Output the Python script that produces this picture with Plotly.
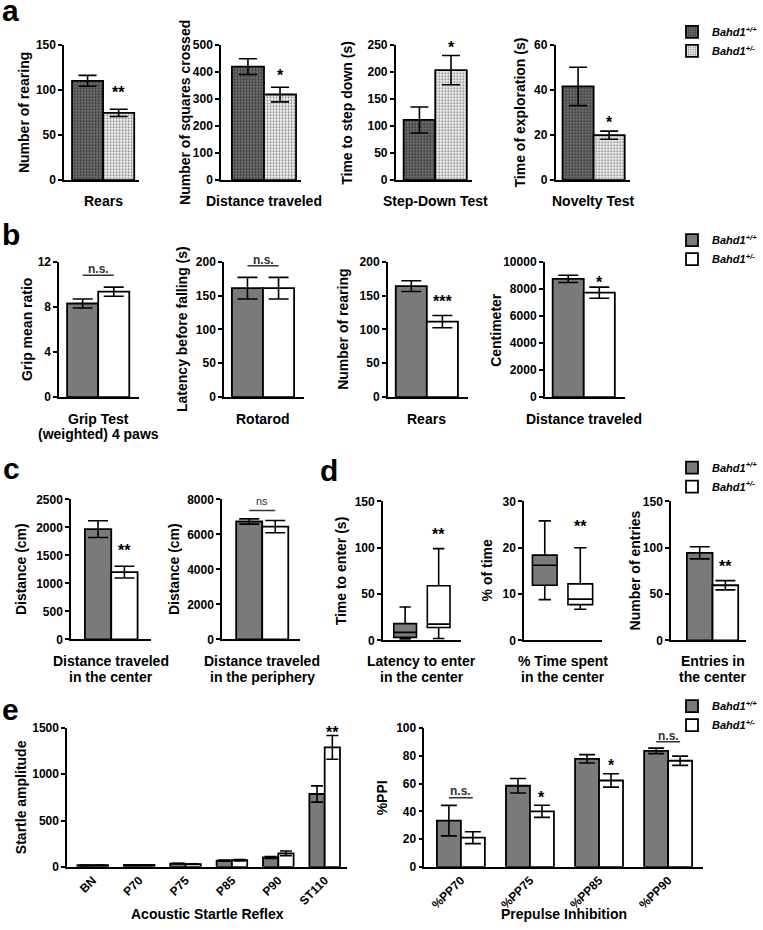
import plotly.graph_objects as go

# ------------------------------------------------------------------
# DATA
# ------------------------------------------------------------------
LEGEND_NAMES = ["<i>Bahd1<sup>+/+</sup></i>", "<i>Bahd1<sup>+/-</sup></i>"]
GENOTYPES = ["Bahd1+/+", "Bahd1+/-"]

# panel a
A_TESTS = ["Rears", "Distance traveled", "Step-Down Test", "Novelty Test"]
A_YTITLES = ["Number of rearing", "Number of squares crossed",
             "Time to step down (s)", "Time of exploration (s)"]
A_WT = [110, 419, 111, 41.5]
A_WT_SEM = [6, 29, 24, 8.5]
A_HET = [74.5, 316, 203, 19.9]
A_HET_SEM = [4, 27, 27, 1.8]
A_YMAX = [150, 500, 250, 60]
A_DTICK = [50, 100, 50, 20]
A_SIG = ["**", "*", "*", "*"]
A_SIG_Y = [102, 401, 252, 27.5]
A_NS_LINE = [None, None, None, None]

# panel b
B_TESTS = ["Grip Test<br>(weighted) 4 paws", "Rotarod", "Rears", "Distance traveled"]
B_YTITLES = ["Grip mean ratio", "Latency before falling (s)",
             "Number of rearing", "Centimeter"]
B_WT = [8.3, 161, 164, 8740]
B_WT_SEM = [0.4, 16, 8, 270]
B_HET = [9.35, 161, 111.5, 7720]
B_HET_SEM = [0.4, 16, 9, 410]
B_YMAX = [12, 200, 200, 10000]
B_DTICK = [4, 50, 50, 2000]
B_SIG = ["n.s.", "n.s.", "***", "*"]
B_SIG_Y = [11.4, 203, 147, 8740]
B_NS_LINE = [10.8, 194, None, None]

# panel c
C_TESTS = ["Distance traveled<br>in the center", "Distance traveled<br>in the periphery"]
C_YTITLES = ["Distance (cm)", "Distance (cm)"]
C_WT = [1970, 6740]
C_WT_SEM = [150, 150]
C_HET = [1200, 6450]
C_HET_SEM = [105, 350]
C_YMAX = [2500, 8000]
C_DTICK = [500, 2000]
C_SIG = ["**", "ns"]
C_SIG_Y = [1655, 7890]
C_NS_LINE = [None, 7370]

# panel d (box plots: min, Q1, median, Q3, max)
D_BOX_TESTS = ["Latency to enter<br>in the center", "% Time spent<br>in the center"]
D_BOX_YTITLES = ["Time to enter (s)", "% of time"]
D_WT_LOW = [1.4, 8.8]
D_WT_Q1 = [3.2, 11.9]
D_WT_MED = [8.6, 16.2]
D_WT_Q3 = [18, 18.4]
D_WT_HIGH = [36, 25.8]
D_HET_LOW = [2, 6.7]
D_HET_Q1 = [13.9, 7.7]
D_HET_MED = [17.5, 8.9]
D_HET_Q3 = [59, 12.2]
D_HET_HIGH = [99, 20]
D_BOX_YMAX = [150, 30]
D_BOX_DTICK = [50, 10]
D_BOX_SIG = ["**", "**"]
D_BOX_SIG_Y = [119, 25.5]
# panel d (bar)
D_BAR_TEST = ["Entries in<br>the center"]
D_BAR_YTITLE = "Number of entries"
D_BAR_WT = [94.5]
D_BAR_WT_SEM = [6.5]
D_BAR_HET = [59.5]
D_BAR_HET_SEM = [5]
D_BAR_YMAX = 150
D_BAR_DTICK = 50
D_BAR_SIG = "**"
D_BAR_SIG_Y = 84.5

# panel e
E1_CATS = ["BN", "P70", "P75", "P85", "P90", "ST110"]
E1_WT = [18, 20, 35, 67, 102, 787]
E1_WT_SEM = [2, 2, 3, 6, 10, 88]
E1_HET = [18, 20, 30, 72, 146, 1290]
E1_HET_SEM = [2, 2, 3, 8, 25, 128]
E1_YMAX = 1500
E1_DTICK = 500
E1_TITLE = "Acoustic Startle Reflex"
E1_YTITLE = "Startle amplitude"
E1_SIG = ["", "", "", "", "", "**"]
E1_SIG_Y = [None, None, None, None, None, 1490]

E2_CATS = ["%PP70", "%PP75", "%PP85", "%PP90"]
E2_WT = [33.3, 58.4, 77.8, 83.5]
E2_WT_SEM = [11, 5.2, 3, 2]
E2_HET = [21, 40, 62.2, 76.4]
E2_HET_SEM = [4.3, 4.4, 4.8, 3.3]
E2_YMAX = 100
E2_DTICK = 20
E2_TITLE = "Prepulse Inhibition"
E2_YTITLE = "%PPI"
E2_SIG = ["n.s.", "*", "*", "n.s."]
E2_SIG_Y = [54.5, 52.5, 76, 94.5]
E2_NS_LINE = [49.8, None, None, 90]

# ------------------------------------------------------------------
# LAYOUT (pixel geometry of the reference)
# ------------------------------------------------------------------
W, H = 763, 930
FONT = "Liberation Sans, Arial, Helvetica, sans-serif"
DARK = "#7a7a7a"
LIGHT = "#ffffff"
BW = 0.4


def fx(p):
    return p / W


def fy(p):
    return 1 - p / H


fig = go.Figure()
layout_updates = {}
annotations = []
shapes = []
n_axes = [0]
ygeom = {}


def make_axes(x0, xend, ytop, ybot, xrange, ymax, dtick, cat_ticks=False):
    n_axes[0] += 1
    s = "" if n_axes[0] == 1 else str(n_axes[0])
    layout_updates["xaxis" + s] = dict(
        domain=[fx(x0), fx(xend)], range=xrange, anchor="y" + s, type="category",
        showline=True, linecolor="black", linewidth=1.6, showgrid=False, zeroline=False,
        showticklabels=cat_ticks, ticks="", tickangle=-45,
        tickfont=dict(family=FONT, size=12, color="black", weight="bold"), fixedrange=True)
    layout_updates["yaxis" + s] = dict(
        domain=[fy(ybot), fy(ytop)], range=[0, ymax], anchor="x" + s, tick0=0, dtick=dtick,
        tickformat="d",
        showline=True, linecolor="black", linewidth=1.6, showgrid=False, zeroline=False,
        ticks="outside", ticklen=4, tickwidth=1.5, tickcolor="black",
        tickfont=dict(family=FONT, size=12, color="black", weight="bold"), fixedrange=True)
    ygeom["y" + s] = (ytop, ybot, ymax)
    return "x" + s, "y" + s


def ypaper(yr, val):
    ytop, ybot, ymax = ygeom[yr]
    return fy(ybot - (ybot - ytop) * val / ymax)


def pair_range(x0, bl, bpx, xend):
    ppu = bpx / BW
    return [-BW - (bl - x0) / ppu, BW + (xend - (bl + 2 * bpx)) / ppu]


PATTERNS = [dict(shape=".", fgcolor="#2e2e2e", bgcolor="#6e6e6e", size=3, solidity=0.3, fillmode="replace"),
            dict(shape=".", fgcolor="#7a7a7a", bgcolor="#f4f4f4", size=3, solidity=0.3, fillmode="replace")]


def add_bars(xr, yr, cats, wt, wt_e, het, het_e, bw, cap, pattern=False, legend=None):
    for k, (vals, errs) in enumerate([(wt, wt_e), (het, het_e)]):
        marker = dict(color=DARK if k == 0 else LIGHT, line=dict(color="black", width=1.8))
        if pattern:
            marker["pattern"] = PATTERNS[k]
        fig.add_trace(go.Bar(
            x=cats, y=vals, xaxis=xr, yaxis=yr, width=bw, offset=-bw if k == 0 else 0,
            marker=marker,
            error_y=dict(type="data", array=errs, visible=True, color="black", thickness=1.6, width=cap),
            name=LEGEND_NAMES[k], showlegend=legend is not None, legend=legend or "legend",
            hoverinfo="skip"))


def add_sig(xr, yr, idx, bw, text, y, line_y=None, small=False, xpos=None):
    if not text:
        return
    if line_y is not None:
        shapes.append(dict(type="line", xref=xr, yref=yr, x0=idx - bw / 2, x1=idx + bw / 2,
                           y0=line_y, y1=line_y, line=dict(color="#333333", width=1.5)))
        annotations.append(dict(xref=xr, yref="paper", x=idx, y=ypaper(yr, y), text=text,
                                showarrow=False, xanchor="center", yanchor="middle",
                                font=dict(family=FONT, size=11 if small else 12, color="#333333",
                                          weight="normal" if small else "bold")))
    else:
        annotations.append(dict(xref=xr, yref="paper", x=idx + bw / 2 if xpos is None else xpos,
                                y=ypaper(yr, y), text=text, showarrow=False, yshift=-4,
                                xanchor="center", yanchor="middle",
                                font=dict(family=FONT, size=16, color="black", weight="bold")))


def ytitle(cx, ytop, ybot, text):
    annotations.append(dict(xref="paper", yref="paper", x=fx(cx), y=fy((ytop + ybot) / 2),
                            text=text, textangle=-90, showarrow=False,
                            xanchor="center", yanchor="middle",
                            font=dict(family=FONT, size=14, color="black", weight="bold")))


def xtitle(cx, y_first, text, step=16):
    for i, line in enumerate(text.split("<br>")):
        annotations.append(dict(xref="paper", yref="paper", x=fx(cx), y=fy(y_first + i * step),
                                text=line, showarrow=False, xanchor="center", yanchor="middle",
                                font=dict(family=FONT, size=14, color="black", weight="bold")))


def letter(x, baseline, t):
    annotations.append(dict(xref="paper", yref="paper", x=fx(x), y=fy(baseline + 7), text=t,
                            showarrow=False, xanchor="left", yanchor="bottom",
                            font=dict(family=FONT, size=30, color="black", weight="bold")))


def pair_panel(geoms, ytop, ybot, tests, ytitles, ytx, wt, wt_e, het, het_e, ymaxs, dticks,
               sigs, sig_y, ns_lines, label_y, cap, pattern=False, legend=None, small_ns=False):
    for i, (x0, bl, bpx, xend) in enumerate(geoms):
        xr, yr = make_axes(x0, xend, ytop, ybot, pair_range(x0, bl, bpx, xend), ymaxs[i], dticks[i])
        add_bars(xr, yr, [tests[i]], [wt[i]], [wt_e[i]], [het[i]], [het_e[i]], BW, cap,
                 pattern=pattern, legend=legend if i == 0 else None)
        add_sig(xr, yr, 0, BW, sigs[i], sig_y[i], ns_lines[i], small=small_ns)
        ytitle(ytx[i], ytop, ybot, ytitles[i])
        xtitle(bl + bpx, label_y, tests[i])


# ---------------- panel a ----------------
pair_panel([(65, 73, 31.5, 141), (224, 235, 32.5, 305), (401, 409, 32, 478), (563, 570, 31.5, 638)],
           38.3, 175.7, A_TESTS, A_YTITLES, [25, 188, 352, 527], A_WT, A_WT_SEM, A_HET, A_HET_SEM,
           A_YMAX, A_DTICK, A_SIG, A_SIG_Y, A_NS_LINE, 197, 9, pattern=True, legend="legend")
letter(0, 15, "a")

# ---------------- panel b ----------------
pair_panel([(60, 68, 31.5, 141), (227, 235, 31.5, 308), (393, 401, 31.5, 474), (552, 560, 31.5, 633)],
           258.7, 396, B_TESTS, B_YTITLES, [28, 185, 348, 503], B_WT, B_WT_SEM, B_HET, B_HET_SEM,
           B_YMAX, B_DTICK, B_SIG, B_SIG_Y, B_NS_LINE, 418, 10, legend="legend2")
letter(0, 243, "b")

# ---------------- panel c ----------------
pair_panel([(72, 86, 26.7, 153), (225, 239.3, 26.4, 304)],
           500, 642, C_TESTS, C_YTITLES, [22, 177], C_WT, C_WT_SEM, C_HET, C_HET_SEM,
           C_YMAX, C_DTICK, C_SIG, C_SIG_Y, C_NS_LINE, 664, 10, small_ns=True)
letter(1, 480, "c")

# ---------------- panel d ----------------
D_TOP, D_BOT = 502, 643
box_geoms = [(388, 410.5, 444.5, 23, 467), (531, 552, 588, 25, 610)]
for i, (x0, c0, c1, bpx, xend) in enumerate(box_geoms):
    sp = c1 - c0
    xr, yr = make_axes(x0, xend, D_TOP, D_BOT, [(x0 - c0) / sp, (xend - c0) / sp],
                       D_BOX_YMAX[i], D_BOX_DTICK[i])
    stats = [(D_WT_LOW, D_WT_Q1, D_WT_MED, D_WT_Q3, D_WT_HIGH),
             (D_HET_LOW, D_HET_Q1, D_HET_MED, D_HET_Q3, D_HET_HIGH)]
    for k, (lo, q1, med, q3, hi) in enumerate(stats):
        fig.add_trace(go.Box(
            x=[GENOTYPES[k]], lowerfence=[lo[i]], q1=[q1[i]], median=[med[i]], q3=[q3[i]],
            upperfence=[hi[i]], xaxis=xr, yaxis=yr, width=bpx / sp, whiskerwidth=0.5,
            fillcolor=DARK if k == 0 else LIGHT, line=dict(color="black", width=1.6),
            boxpoints=False, showlegend=False, hoverinfo="skip"))
    add_sig(xr, yr, 1, 0, D_BOX_SIG[i], D_BOX_SIG_Y[i], xpos=1)
    ytitle([345, 493][i], D_TOP, D_BOT, D_BOX_YTITLES[i])
    xtitle((c0 + c1) / 2, 664, D_BOX_TESTS[i])

x0, bl, bpx, xend = 680, 696, 26, 756
xr, yr = make_axes(x0, xend, D_TOP, D_BOT, pair_range(x0, bl, bpx, xend), D_BAR_YMAX, D_BAR_DTICK)
add_bars(xr, yr, D_BAR_TEST, D_BAR_WT, D_BAR_WT_SEM, D_BAR_HET, D_BAR_HET_SEM, BW, 10, legend="legend3")
add_sig(xr, yr, 0, BW, D_BAR_SIG, D_BAR_SIG_Y)
ytitle(643, D_TOP, D_BOT, D_BAR_YTITLE)
xtitle(bl + bpx, 664, D_BAR_TEST[0])
letter(322, 482, "d")

# ---------------- panel e ----------------
E_TOP, E_BOT = 732, 873
e_geoms = [(68, 94, 47, 15.5, 352, E1_CATS, E1_WT, E1_WT_SEM, E1_HET, E1_HET_SEM, E1_YMAX, E1_DTICK,
            E1_SIG, E1_SIG_Y, [None] * 6, E1_TITLE, E1_YTITLE, 22, 6, None),
           (430, 467, 70, 24.3, 712, E2_CATS, E2_WT, E2_WT_SEM, E2_HET, E2_HET_SEM, E2_YMAX, E2_DTICK,
            E2_SIG, E2_SIG_Y, E2_NS_LINE, E2_TITLE, E2_YTITLE, 388, 8, "legend4")]
for (x0, c0, sp, bpx, xend, cats, wt, wte, het, hete, ymax, dt, sig, sigy, nsl, title, yt, ytx, cap,
     leg) in e_geoms:
    bw = bpx / sp
    xr, yr = make_axes(x0, xend, E_TOP, E_BOT, [(x0 - c0) / sp, (xend - c0) / sp], ymax, dt,
                       cat_ticks=True)
    add_bars(xr, yr, cats, wt, wte, het, hete, bw, cap, legend=leg)
    for j in range(len(cats)):
        add_sig(xr, yr, j, bw, sig[j], sigy[j], nsl[j])
    ytitle(ytx, E_TOP, E_BOT, yt)
    xtitle((x0 + xend) / 2, 921, title)
letter(0, 725, "e")


# ---------------- legends ----------------
def legend_box(top):
    return dict(x=fx(681), y=fy(top), xanchor="left", yanchor="top", bgcolor="rgba(0,0,0,0)",
                tracegroupgap=0, font=dict(family=FONT, size=11, color="black", weight="bold"),
                itemclick=False, itemdoubleclick=False)


layout_updates["legend"] = legend_box(10.5)
layout_updates["legend2"] = legend_box(222)
layout_updates["legend3"] = legend_box(453)
layout_updates["legend4"] = legend_box(695)

fig.update_layout(**layout_updates)
fig.update_layout(
    width=W, height=H, margin=dict(l=0, r=0, t=0, b=0),
    paper_bgcolor="white", plot_bgcolor="white", barmode="overlay", boxmode="overlay",
    annotations=annotations, shapes=shapes, showlegend=True,
)

# remove the browser's default 8px body margin so the figure sits at the page origin
fig.write_html("out.html", config={"displayModeBar": False},
               post_script="document.body.style.margin='0';document.body.style.overflow='hidden';")
